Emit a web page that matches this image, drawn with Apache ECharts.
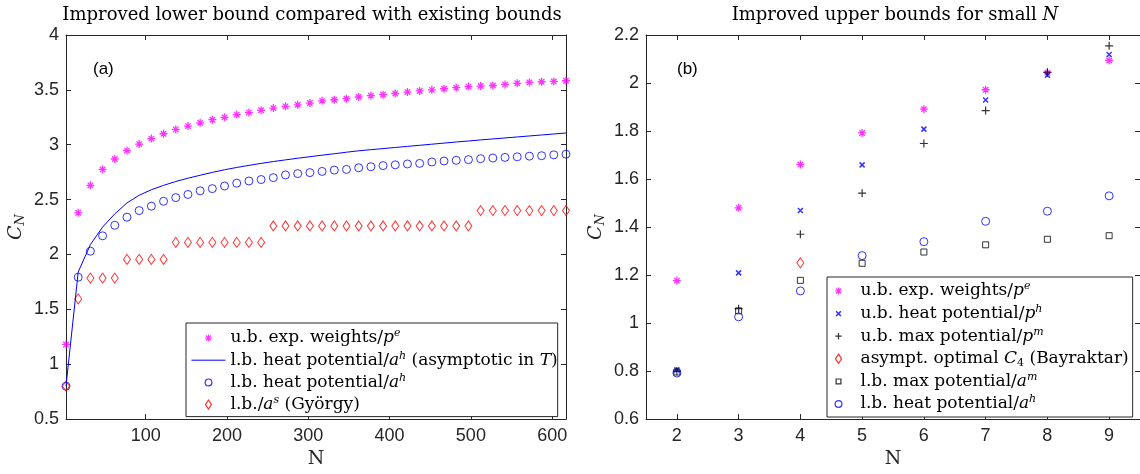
<!DOCTYPE html>
<html>
<head>
<meta charset="utf-8">
<script src="https://cdn.jsdelivr.net/npm/echarts@6/dist/echarts.min.js"></script>
<style>
html, body { margin: 0; padding: 0; background: #fff; }
#chart { width: 1140px; height: 474px; }
</style>
</head>
<body>
<div id="chart"></div>
<script>
// ---- panel (a): bounds for large N ----
var nLarge = [2, 17, 32, 47, 62, 77, 92, 107, 122, 137, 152, 167, 182, 197, 212, 227, 242, 257, 272, 287,
    302, 317, 332, 347, 362, 377, 392, 407, 422, 437, 452, 467, 482, 497, 512, 527, 542, 557, 572, 587, 602, 617];
var ubExpA = [1.18, 2.38, 2.63, 2.775, 2.87, 2.947, 3.006, 3.056, 3.10, 3.14, 3.17, 3.20, 3.228, 3.25, 3.275,
    3.293, 3.314, 3.334, 3.35, 3.364, 3.38, 3.40, 3.41, 3.42, 3.435, 3.447, 3.456, 3.467, 3.48, 3.49, 3.50,
    3.51, 3.52, 3.53, 3.535, 3.54, 3.55, 3.56, 3.568, 3.574, 3.577, 3.583];
var lbHeatAsymA = [0.80, 1.84, 2.09, 2.25, 2.37, 2.47, 2.54, 2.59, 2.63, 2.665, 2.695, 2.722, 2.748, 2.772,
    2.793, 2.812, 2.83, 2.847, 2.862, 2.877, 2.891, 2.905, 2.918, 2.932, 2.945, 2.955, 2.965, 2.975, 2.985,
    2.995, 3.005, 3.015, 3.025, 3.034, 3.044, 3.053, 3.062, 3.071, 3.08, 3.089, 3.098, 3.107];
var lbHeatA = [0.80, 1.793, 2.03, 2.17, 2.266, 2.34, 2.40, 2.44, 2.485, 2.518, 2.547, 2.58, 2.60, 2.624, 2.65,
    2.67, 2.683, 2.70, 2.725, 2.737, 2.746, 2.757, 2.769, 2.775, 2.79, 2.80, 2.81, 2.817, 2.825, 2.83, 2.843,
    2.852, 2.858, 2.864, 2.873, 2.879, 2.885, 2.89, 2.896, 2.90, 2.908, 2.914];
var gyorgyA = [0.80, 1.595, 1.785, 1.785, 1.785, 1.955, 1.955, 1.955, 1.955,
    2.11, 2.11, 2.11, 2.11, 2.11, 2.11, 2.11, 2.11,
    2.26, 2.26, 2.26, 2.26, 2.26, 2.26, 2.26, 2.26, 2.26, 2.26, 2.26, 2.26, 2.26, 2.26, 2.26, 2.26, 2.26,
    2.40, 2.40, 2.40, 2.40, 2.40, 2.40, 2.40, 2.40];
var xTicksA = [100, 200, 300, 400, 500, 600];

// ---- panel (b): small N ----
var nSmall = [2, 3, 4, 5, 6, 7, 8, 9];
var ubExpB = [1.177, 1.48, 1.661, 1.792, 1.891, 1.972, 2.043, 2.094];
var ubHeatB = [0.805, 1.209, 1.469, 1.659, 1.808, 1.929, 2.032, 2.119];
var ubMaxB = [0.80, 1.06, 1.37, 1.541, 1.748, 1.885, 2.045, 2.155];
var bayraktarN = [4];
var bayraktarB = [1.251];
var lbMaxB = [0.796, 1.051, 1.178, 1.249, 1.296, 1.326, 1.349, 1.364];
var lbHeatB = [0.792, 1.026, 1.134, 1.281, 1.339, 1.424, 1.466, 1.53];
var xTicksB = [2, 3, 4, 5, 6, 7, 8, 9];

var SERIF = '"DejaVu Serif", "Liberation Serif", serif';
var SANS = '"Liberation Sans", Arial, sans-serif';
var AXIS_COLOR = '#262626';

// marker shapes (stroked paths)
var SYM_STAR = 'path://M5,0L5,10M0,5L10,5M1.6,1.6L8.4,8.4M8.4,1.6L1.6,8.4';
var SYM_PLUS = 'path://M5,0L5,10M0,5L10,5';
var SYM_CROSS = 'path://M0,0L10,10M10,0L0,10';

// legend icons, drawn inside a 10x10 box so they keep the small marker size
var ICON_STAR = 'path://M0,0M10,10M5,1.5L5,8.5M1.5,5L8.5,5M2.5,2.5L7.5,7.5M7.5,2.5L2.5,7.5';
var ICON_PLUS = 'path://M0,0M10,10M5,1.8L5,8.2M1.8,5L8.2,5';
var ICON_CROSS = 'path://M0,0M10,10M2.6,2.6L7.4,7.4M7.4,2.6L2.6,7.4';
var ICON_CIRCLE = 'path://M0,0M10,10M1.6,5A3.4,3.4,0,1,1,8.4,5A3.4,3.4,0,1,1,1.6,5Z';
var ICON_DIAMOND = 'path://M0,0M10,10M5,0.4L8,5L5,9.6L2,5Z';
var ICON_SQUARE = 'path://M0,0M10,10M2.6,2.6L7.4,2.6L7.4,7.4L2.6,7.4Z';

var legendLabels = {
    a_ubExp: 'u.b. exp. weights/{i|p}{sup|e}',
    a_lbHeatT: 'l.b. heat potential/{i|a}{sup|h} (asymptotic in {i|T})',
    a_lbHeat: 'l.b. heat potential/{i|a}{sup|h}',
    a_gyorgy: 'l.b./{i|a}{sup|s} (György)',
    b_ubExp: 'u.b. exp. weights/{i|p}{sup|e}',
    b_ubHeat: 'u.b. heat potential/{i|p}{sup|h}',
    b_ubMax: 'u.b. max potential/{i|p}{sup|m}',
    b_bayraktar: 'asympt. optimal {i|C}{sub|4} (Bayraktar)',
    b_lbMax: 'l.b. max potential/{i|a}{sup|m}',
    b_lbHeat: 'l.b. heat potential/{i|a}{sup|h}'
};

function zip(xs, ys) {
    return xs.map(function(x, i) { return [x, ys[i]]; });
}

function scatter(name, grid, xs, ys, symbol, size, color, width) {
    return {
        name: name,
        type: 'scatter',
        xAxisIndex: grid * 2,
        yAxisIndex: grid * 2,
        data: zip(xs, ys),
        symbol: symbol,
        symbolSize: size,
        symbolKeepAspect: true,
        itemStyle: { color: 'none', borderColor: color, borderWidth: width },
        emphasis: { disabled: true },
        silent: true
    };
}

function xAxisOf(grid, min, max, ticks, top) {
    return {
        type: 'value',
        gridIndex: grid,
        position: top ? 'top' : 'bottom',
        min: min,
        max: max,
        name: top ? '' : 'N',
        nameLocation: 'middle',
        nameGap: 25,
        nameTextStyle: { fontFamily: SERIF, fontSize: 19, color: AXIS_COLOR },
        axisLine: { show: true, onZero: false, lineStyle: { color: AXIS_COLOR, width: 1 } },
        axisTick: { show: true, inside: true, length: 5, customValues: ticks, lineStyle: { color: AXIS_COLOR } },
        axisLabel: {
            show: !top, customValues: ticks, margin: 8,
            fontFamily: SANS, fontSize: 18, color: AXIS_COLOR
        },
        splitLine: { show: false }
    };
}

function yAxisOf(grid, min, max, interval, right) {
    return {
        type: 'value',
        gridIndex: grid,
        position: right ? 'right' : 'left',
        min: min,
        max: max,
        interval: interval,
        name: right ? '' : '{i|C}{sub|N}',
        nameLocation: 'middle',
        nameGap: 39,
        nameTextStyle: {
            color: AXIS_COLOR,
            rich: {
                i: { fontFamily: SERIF, fontStyle: 'italic', fontSize: 19, lineHeight: 22, color: AXIS_COLOR },
                sub: { fontFamily: SERIF, fontStyle: 'italic', fontSize: 13, lineHeight: 10, verticalAlign: 'bottom', color: AXIS_COLOR }
            }
        },
        axisLine: { show: true, onZero: false, lineStyle: { color: AXIS_COLOR, width: 1 } },
        axisTick: { show: true, inside: true, length: 5, lineStyle: { color: AXIS_COLOR } },
        axisLabel: { show: !right, margin: 7, fontFamily: SANS, fontSize: 18, color: AXIS_COLOR },
        splitLine: { show: false }
    };
}

function legendOf(items, left, top, gap, padding) {
    return {
        data: items,
        orient: 'vertical',
        left: left,
        top: top,
        itemWidth: 34,
        itemHeight: 10,
        itemGap: gap,
        padding: padding,
        borderColor: AXIS_COLOR,
        borderWidth: 1,
        backgroundColor: '#fff',
        selectedMode: false,
        itemStyle: { borderWidth: 1.2 },
        lineStyle: { width: 1 },
        formatter: function(name) { return legendLabels[name]; },
        textStyle: {
            fontFamily: SERIF, fontSize: 17, lineHeight: 20, color: '#000',
            rich: {
                i: { fontFamily: SERIF, fontStyle: 'italic', fontSize: 17, lineHeight: 20, color: '#000' },
                sup: { fontFamily: SERIF, fontStyle: 'italic', fontSize: 11, lineHeight: 10, verticalAlign: 'top', color: '#000' },
                sub: { fontFamily: SERIF, fontSize: 11, lineHeight: 10, verticalAlign: 'bottom', color: '#000' }
            }
        }
    };
}

var chart = echarts.init(document.getElementById('chart'));
chart.setOption({
    animation: false,
    backgroundColor: '#fff',
    title: [
        {
            text: 'Improved lower bound compared with existing bounds',
            left: 312, top: 6, padding: 0, textAlign: 'center',
            textStyle: { fontFamily: SERIF, fontSize: 18, fontWeight: 'normal', color: '#000' }
        },
        {
            text: 'Improved upper bounds for small {i|N}',
            left: 895, top: 6, padding: 0, textAlign: 'center',
            textStyle: {
                fontFamily: SERIF, fontSize: 18, fontWeight: 'normal', color: '#000',
                rich: { i: { fontFamily: SERIF, fontStyle: 'italic', fontSize: 18, color: '#000' } }
            }
        }
    ],
    graphic: [
        { type: 'text', left: 93, top: 61, style: { text: '(a)', font: '17px ' + SANS, fill: '#000' } },
        { type: 'text', left: 677, top: 61, style: { text: '(b)', font: '17px ' + SANS, fill: '#000' } }
    ],
    grid: [
        { left: 66, top: 35, width: 500, height: 392 },
        { left: 646, top: 35, right: 0, height: 392 }
    ],
    xAxis: [
        xAxisOf(0, 2, 617, xTicksA, false),
        xAxisOf(0, 2, 617, xTicksA, true),
        xAxisOf(1, 1.5, 9.5, xTicksB, false),
        xAxisOf(1, 1.5, 9.5, xTicksB, true)
    ],
    yAxis: [
        yAxisOf(0, 0.5, 4, 0.5, false),
        yAxisOf(0, 0.5, 4, 0.5, true),
        yAxisOf(1, 0.6, 2.2, 0.2, false),
        yAxisOf(1, 0.6, 2.2, 0.2, true)
    ],
    legend: [
        legendOf([
            { name: 'a_ubExp', icon: ICON_STAR },
            { name: 'a_lbHeatT', itemStyle: { color: 'none', borderColor: 'none', borderWidth: 0 } },
            { name: 'a_lbHeat', icon: ICON_CIRCLE },
            { name: 'a_gyorgy', icon: ICON_DIAMOND }
        ], 186, 323, 2.2, [5, 0, 2, 5]),
        legendOf([
            { name: 'b_ubExp', icon: ICON_STAR },
            { name: 'b_ubHeat', icon: ICON_CROSS, itemStyle: { borderWidth: 1.6 } },
            { name: 'b_ubMax', icon: ICON_PLUS },
            { name: 'b_bayraktar', icon: ICON_DIAMOND },
            { name: 'b_lbMax', icon: ICON_SQUARE },
            { name: 'b_lbHeat', icon: ICON_CIRCLE }
        ], 827, 277, 2.6, [4, 4, 3, 4])
    ],
    series: [
        scatter('a_ubExp', 0, nLarge, ubExpA, SYM_STAR, 8, '#ff00ff', 1.3),
        {
            name: 'a_lbHeatT',
            type: 'line',
            xAxisIndex: 0,
            yAxisIndex: 0,
            data: zip(nLarge, lbHeatAsymA),
            symbol: 'none',
            lineStyle: { color: '#0000ff', width: 1 },
            itemStyle: { color: '#0000ff' },
            silent: true
        },
        scatter('a_lbHeat', 0, nLarge, lbHeatA, 'circle', 8, '#0000ff', 1),
        scatter('a_gyorgy', 0, nLarge, gyorgyA, 'diamond', [7, 10], '#ff0000', 1),

        scatter('b_ubExp', 1, nSmall, ubExpB, SYM_STAR, 8, '#ff00ff', 1.3),
        scatter('b_ubHeat', 1, nSmall, ubHeatB, SYM_CROSS, 5, '#0000ff', 1.5),
        scatter('b_ubMax', 1, nSmall, ubMaxB, SYM_PLUS, 8, '#000000', 1.2),
        scatter('b_bayraktar', 1, bayraktarN, bayraktarB, 'diamond', [7, 10], '#ff0000', 1),
        scatter('b_lbMax', 1, nSmall, lbMaxB, 'rect', 6, '#000000', 1),
        scatter('b_lbHeat', 1, nSmall, lbHeatB, 'circle', 8, '#0000ff', 1)
    ]
});
</script>
</body>
</html>
